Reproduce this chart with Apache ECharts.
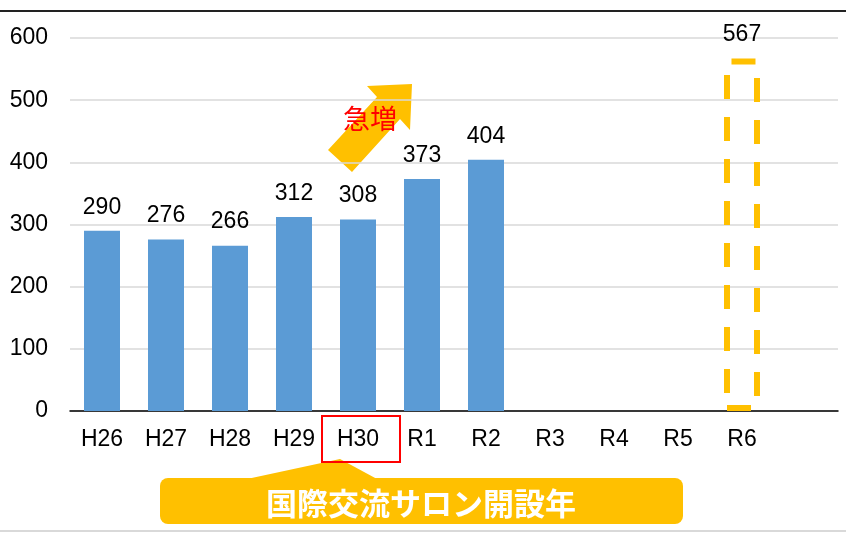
<!DOCTYPE html>
<html>
<head>
<meta charset="utf-8">
<script src="https://cdn.jsdelivr.net/npm/echarts@6/dist/echarts.min.js"></script>
<style>
  html, body { margin: 0; padding: 0; background: #fff; }
  #chart { width: 846px; height: 533px; }
</style>
</head>
<body>
<div id="chart"></div>
<script>
// fiscal years (last slot is left empty, as in the original)
const years = ['H26', 'H27', 'H28', 'H29', 'H30', 'R1', 'R2', 'R3', 'R4', 'R5', 'R6', '']
const actual = [290, 276, 266, 312, 308, 373, 404, null, null, null, null, null]
const target = [null, null, null, null, null, null, null, null, null, null, 567, null]
const yTicks = [0, 100, 200, 300, 400, 500, 600]

const latin = '"Liberation Sans", Arial, sans-serif'
const jp = '"Noto Sans CJK JP", sans-serif'
const orange = '#FFC000'

const chart = echarts.init(document.getElementById('chart'))

chart.setOption({
  animation: false,
  grid: {
    left: 70,
    right: 8,
    top: 38,
    bottom: 122
  },
  xAxis: {
    type: 'category',
    data: years,
    axisLine: { lineStyle: { color: '#000', width: 1.5 } },
    axisTick: { show: false },
    axisLabel: {
      color: '#000',
      fontFamily: latin,
      fontSize: 23,
      margin: 17
    }
  },
  yAxis: {
    type: 'value',
    min: yTicks[0],
    max: yTicks[yTicks.length - 1],
    interval: 100,
    axisLine: { show: false },
    axisTick: { show: false },
    axisLabel: {
      color: '#000',
      fontFamily: latin,
      fontSize: 23,
      margin: 22
    },
    splitLine: { lineStyle: { color: '#d9d9d9', width: 1.5 } }
  },
  series: [
    {
      name: 'actual',
      type: 'bar',
      data: actual,
      barWidth: 36,
      itemStyle: { color: '#5B9BD5' },
      label: {
        show: true,
        position: 'top',
        distance: 12,
        color: '#000',
        fontFamily: latin,
        fontSize: 23
      }
    },
    {
      name: 'target',
      type: 'bar',
      data: target,
      barWidth: 36,
      barGap: '-100%',
      itemStyle: {
        color: 'transparent',
        borderColor: orange,
        borderWidth: 6,
        borderType: [24, 18]
      },
      label: {
        show: true,
        position: 'top',
        distance: 12,
        color: '#000',
        fontFamily: latin,
        fontSize: 23
      }
    }
  ],
  graphic: [
    // frame lines
    { type: 'line', shape: { x1: 0, y1: 11, x2: 846, y2: 11 }, style: { stroke: '#222', lineWidth: 2 } },
    { type: 'line', shape: { x1: 0, y1: 531, x2: 846, y2: 531 }, style: { stroke: '#d9d9d9', lineWidth: 2 } },
    // 急増 arrow
    {
      type: 'polygon',
      shape: { points: [[412, 84], [410, 130], [400, 119], [352, 172], [328, 150], [377, 97], [367, 86]] },
      style: { fill: orange }
    },
    {
      type: 'text',
      x: 370, y: 119,
      style: {
        text: '急増', fill: '#FF0000', font: '27px ' + jp,
        align: 'center', verticalAlign: 'middle'
      }
    },
    // callout
    {
      type: 'polygon',
      shape: { points: [[247, 479], [340, 459], [377, 479]] },
      style: { fill: orange }
    },
    {
      type: 'rect',
      shape: { x: 160, y: 478, width: 523, height: 46, r: 8 },
      style: { fill: orange }
    },
    {
      type: 'text',
      x: 421, y: 503,
      style: {
        text: '国際交流サロン開設年', fill: '#fff', font: 'bold 31px ' + jp,
        align: 'center', verticalAlign: 'middle'
      }
    },
    {
      type: 'rect',
      z: 10,
      shape: { x: 322, y: 416, width: 78, height: 46 },
      style: { fill: 'none', stroke: '#FF0000', lineWidth: 2 }
    }
  ]
})
</script>
</body>
</html>
